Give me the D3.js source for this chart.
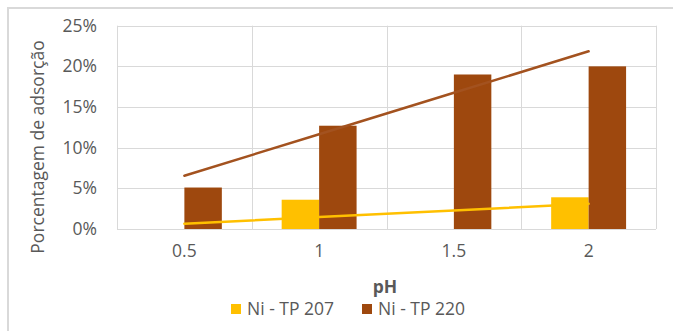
<!DOCTYPE html>
<html>
<head>
<meta charset="utf-8">
<script src="https://cdn.jsdelivr.net/npm/d3@7"></script>
<style>
  html, body { margin: 0; padding: 0; background: #fff; }
  svg { display: block; font-family: "Open Sans", "Noto Sans", sans-serif; }
</style>
</head>
<body>
<svg id="chart" width="673" height="331"></svg>
<script>
// pH categories and adsorption percentages per resin
const categories = ["0.5", "1", "1.5", "2"];
const seriesNames = ["Ni - TP 207", "Ni - TP 220"];
const tp207 = [0, 3.6, 0, 3.9];
const tp220 = [5.1, 12.7, 19.0, 20.0];
const yTicks = [0, 5, 10, 15, 20, 25];
const colors = ["#FFC000", "#9E480E"];
const trendColors = ["#FFC000", "#A3521F"];

const seriesValues = [tp207, tp220];
const FS = 17.5;
const TEXT = "#595959";

const svg = d3.select("#chart");
const W = 673, H = 331;

// outer chart frame
svg.append("rect")
  .attr("x", 8).attr("y", 8)
  .attr("width", W + 10).attr("height", H + 10)
  .attr("fill", "#fff").attr("stroke", "#d9d9d9").attr("stroke-width", 2);

const plot = { left: 117, right: 656, top: 25.7, bottom: 229 };

const x = d3.scaleBand().domain(categories).range([plot.left, plot.right]).padding(0);
const bw = x.bandwidth();
const xSeries = d3.scaleBand().domain(seriesNames)
  .range([bw * 0.222, bw * 0.778]).padding(0);
const y = d3.scaleLinear().domain([0, 25]).range([plot.bottom, plot.top]);

const grid = svg.append("g").attr("stroke", "#d9d9d9").attr("stroke-width", 1);
// horizontal gridlines
grid.selectAll("line.h").data(yTicks).join("line")
  .attr("x1", plot.left).attr("x2", plot.right)
  .attr("y1", d => Math.round(y(d)) + 0.5).attr("y2", d => Math.round(y(d)) + 0.5);
// vertical gridlines at category boundaries
const bounds = categories.map(c => x(c)).concat([plot.right]);
grid.selectAll("line.v").data(bounds).join("line")
  .attr("y1", plot.top).attr("y2", plot.bottom)
  .attr("x1", d => Math.round(d) + 0.5).attr("x2", d => Math.round(d) + 0.5);

// bars
seriesNames.forEach((name, si) => {
  svg.append("g").attr("fill", colors[si])
    .selectAll("rect").data(seriesValues[si]).join("rect")
    .attr("x", (d, i) => x(categories[i]) + xSeries(name))
    .attr("width", xSeries.bandwidth())
    .attr("y", d => y(d))
    .attr("height", d => y(0) - y(d));
});

// linear trendlines (least squares over category index)
function linearFit(vals) {
  const xs = vals.map((_, i) => i + 1);
  const mx = d3.mean(xs), my = d3.mean(vals);
  const slope = d3.sum(xs, (xi, i) => (xi - mx) * (vals[i] - my)) / d3.sum(xs, xi => (xi - mx) ** 2);
  return xs.map(xi => my + slope * (xi - mx));
}
const line = d3.line()
  .x((d, i) => x(categories[i]) + bw / 2)
  .y(d => y(d));
seriesValues.forEach((vals, si) => {
  svg.append("path")
    .datum(linearFit(vals))
    .attr("d", line)
    .attr("fill", "none")
    .attr("stroke", trendColors[si])
    .attr("stroke-width", 2.5)
    .attr("stroke-linecap", "round");
});

// y axis labels
const yAxis = d3.axisLeft(y).tickValues(yTicks).tickFormat(d => d + "%").tickSize(0).tickPadding(20);
const yg = svg.append("g").attr("transform", `translate(${plot.left},0)`).call(yAxis);
yg.select(".domain").remove();
yg.selectAll("text").attr("font-size", FS).attr("fill", TEXT)
  .attr("font-family", "'Open Sans', sans-serif");

// x axis labels
const xAxis = d3.axisBottom(x).tickSize(0).tickPadding(16);
const xg = svg.append("g").attr("transform", `translate(0,${plot.bottom})`).call(xAxis);
xg.select(".domain").remove();
xg.selectAll("text").attr("font-size", FS).attr("fill", TEXT)
  .attr("font-family", "'Open Sans', sans-serif");

// axis titles
svg.append("text")
  .attr("transform", "translate(44,147) rotate(-90)")
  .attr("text-anchor", "middle")
  .attr("font-size", FS).attr("fill", TEXT)
  .text("Porcentagem de adsorção");
svg.append("text")
  .attr("x", 385).attr("y", 293)
  .attr("text-anchor", "middle")
  .attr("font-size", FS).attr("font-weight", "bold").attr("fill", TEXT)
  .text("pH");

// legend
const legendX = [231, 362];
const lg = svg.append("g");
seriesNames.forEach((name, si) => {
  lg.append("rect")
    .attr("x", legendX[si]).attr("y", 304)
    .attr("width", 10).attr("height", 10)
    .attr("fill", colors[si]);
  lg.append("text")
    .attr("x", legendX[si] + 16).attr("y", 315)
    .attr("font-size", FS).attr("fill", TEXT)
    .text(name);
});
</script>
</body>
</html>
